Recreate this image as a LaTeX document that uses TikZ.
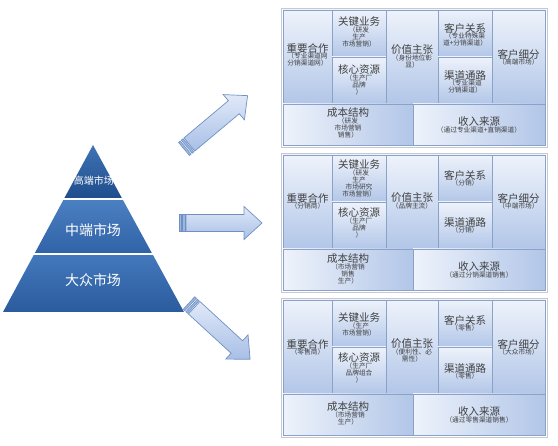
\documentclass[tikz,border=0pt]{standalone}
\usepackage{fontspec}
\setmainfont{Noto Sans CJK SC}
\usetikzlibrary{calc}
\definecolor{cellA}{HTML}{EEF3FB}
\definecolor{cellB}{HTML}{B2C6E8}
\definecolor{cellline}{HTML}{8AA2C8}
\definecolor{framec}{HTML}{C4C9D2}
\definecolor{txt}{HTML}{404040}
\definecolor{arrA}{HTML}{E0E9F8}
\definecolor{arrB}{HTML}{A8BFE6}
\definecolor{arrline}{HTML}{7090C4}
\definecolor{stripec}{HTML}{9DB6E0}
\definecolor{pbA}{HTML}{4479BD}
\definecolor{pbB}{HTML}{2A5B9D}
\definecolor{pmA}{HTML}{4B80C2}
\definecolor{pmB}{HTML}{2F62A6}
\definecolor{ptA}{HTML}{3F73B5}
\definecolor{ptB}{HTML}{1F4D8C}
\tikzset{
  cellv/.style={draw=cellline, line width=0.6pt, top color=cellA, bottom color=cellB},
  cellh/.style={draw=cellline, line width=0.6pt, left color=cellA, right color=cellB},
  frame/.style={draw=framec, line width=0.6pt, fill=white},
  ttl/.style={inner sep=0pt, text=txt, font=\fontsize{10.5}{12}\selectfont},
  subt/.style={inner sep=0pt, text=txt, align=center, font=\fontsize{6.7}{7.2}\selectfont},
  pyrtxt/.style={inner sep=0pt, text=white},
  arrowbody/.style={draw=arrline, line width=0.7pt, top color=arrA, bottom color=arrB},
  arrowstripe/.style={draw=arrline, line width=0.6pt, fill=stripec},
  blockarrow/.pic={
    \path[arrowbody] (7,-8.5) -- (65,-8.5) -- (65,-16.5) -- (83,0) -- (65,16.5) -- (65,8.5) -- (7,8.5) -- cycle;
    \path[arrowstripe] (0,-8.5) rectangle (2.2,8.5);
    \path[arrowstripe] (3.6,-8.5) rectangle (5.8,8.5);
  }
}
\newcommand\bcell[5]{%
  \node[ttl] (#1t) at (#2,#3) {#4};
  \node[subt, anchor=north] (#1s) at ([yshift=-4.4pt]#1t.center) {#5};
}
\newcommand\canvasgrid{%
  \path[frame] (281,-2) rectangle (547,137);
  \path[cellv] (283,0) rectangle (332,94);
  \path[cellv] (332,0) rectangle (386,47);
  \path[cellv] (332,47) rectangle (386,94);
  \path[cellv] (386,0) rectangle (438,94);
  \path[cellv] (438,0) rectangle (492,47);
  \path[cellv] (438,47) rectangle (492,94);
  \path[cellv] (492,0) rectangle (545,94);
  \path[cellh] (283,94) rectangle (413,135);
  \path[cellh] (413,94) rectangle (545,135);
}
\begin{document}
\begin{tikzpicture}[x=1pt,y=-1pt]
\useasboundingbox[fill=white] (0,0) rectangle (558,446);

% pyramid
\shade[top color=pbA, bottom color=pbB] (3,312) -- (34.3,254) -- (152.4,254) -- (184,312) -- cycle;
\shade[top color=pmA, bottom color=pmB] (34.3,254) -- (63.9,199) -- (122.4,199) -- (152.4,254) -- cycle;
\shade[top color=ptA, bottom color=ptB] (63.9,199) -- (93,145) -- (122.4,199) -- cycle;
\draw[white, line width=1.6pt] (60,199) -- (127,199);
\draw[white, line width=1.6pt] (30,254) -- (157,254);
\node[pyrtxt, font=\fontsize{10}{12}\selectfont] (ptop) at (94,181) {高端市场};
\node[pyrtxt, font=\fontsize{14}{16}\selectfont] (pmid) at (93,230) {中端市场};
\node[pyrtxt, font=\fontsize{14}{16}\selectfont] (pbot) at (93,280) {大众市场};

% arrows
\coordinate (a1) at (184,149);
\coordinate (a2) at (179,223);
\coordinate (a3) at (189,303);
\pic[rotate=40] (arr1) at (a1) {blockarrow};
\pic (arr2) at (a2) {blockarrow};
\pic[rotate=-42.6] (arr3) at (a3) {blockarrow};

% canvas 1
\begin{scope}[shift={(0,10)}]
\canvasgrid
\bcell{a1}{307.5}{38}{重要合作}{（专业渠道网\\分销渠道网）}
\bcell{a2}{359}{12}{关键业务}{（研发\\生产\\市场营销）}
\bcell{a3}{359}{60}{核心资源}{（生产厂\\品牌\\）}
\bcell{a4}{412}{40}{价值主张}{（身份地位彰\\显）}
\bcell{a5}{465}{18}{客户关系}{（专业特殊渠\\道+分销渠道）}
\bcell{a6}{465}{65}{渠道通路}{（专业渠道\\分销渠道）}
\bcell{a7}{518.5}{44}{客户细分}{（高端市场）}
\bcell{a8}{348}{103}{成本结构}{（研发\\市场营销\\销售）}
\bcell{a9}{479}{112}{收入来源}{（通过专业渠道+直销渠道）}
\end{scope}

% canvas 2
\begin{scope}[shift={(0,155)}]
\canvasgrid
\bcell{b1}{307.5}{43}{重要合作}{（分销商）}
\bcell{b2}{359}{10}{关键业务}{（研发\\生产\\市场研究\\市场营销）}
\bcell{b3}{359}{58}{核心资源}{（生产厂\\品牌\\）}
\bcell{b4}{412}{43}{价值主张}{（品牌主流）}
\bcell{b5}{465}{20}{客户关系}{（分销）}
\bcell{b6}{465}{67}{渠道通路}{（分销）}
\bcell{b7}{518.5}{43}{客户细分}{（中端市场）}
\bcell{b8}{348}{104}{成本结构}{（市场营销\\销售\\生产）}
\bcell{b9}{479}{112}{收入来源}{（通过分销渠道销售）}
\end{scope}

% canvas 3
\begin{scope}[shift={(0,300)}]
\canvasgrid
\bcell{c1}{307.5}{44}{重要合作}{（零售商）}
\bcell{c2}{359}{18}{关键业务}{（生产\\市场营销）}
\bcell{c3}{359}{58}{核心资源}{（生产厂\\品牌组合\\）}
\bcell{c4}{412}{44}{价值主张}{（便利性、必\\需性）}
\bcell{c5}{465}{20}{客户关系}{（零售）}
\bcell{c6}{465}{68}{渠道通路}{（零售）}
\bcell{c7}{518.5}{44}{客户细分}{（大众市场）}
\bcell{c8}{348}{107}{成本结构}{（市场营销\\生产）}
\bcell{c9}{479}{112}{收入来源}{（通过零售渠道销售）}
\end{scope}
\end{tikzpicture}
\end{document}
